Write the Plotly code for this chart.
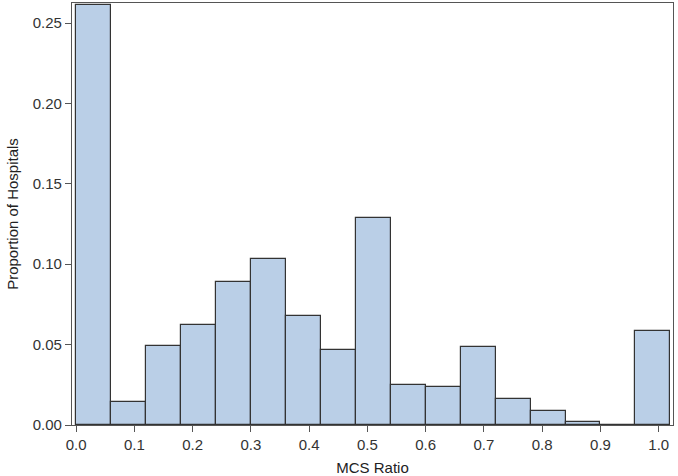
import plotly.graph_objects as go

bin_edges = [0.00, 0.06, 0.12, 0.18, 0.24, 0.30, 0.36, 0.42, 0.48, 0.54,
             0.60, 0.66, 0.72, 0.78, 0.84, 0.90, 0.96, 1.02]
proportions = [0.261, 0.014, 0.049, 0.062, 0.089, 0.103, 0.0675, 0.0466, 0.1286,
               0.0246, 0.0236, 0.0483, 0.016, 0.009, 0.0016, 0.0, 0.0584]
x_ticks = [0.0, 0.1, 0.2, 0.3, 0.4, 0.5, 0.6, 0.7, 0.8, 0.9, 1.0]
y_ticks = [0.00, 0.05, 0.10, 0.15, 0.20, 0.25]

centers = [(a + b) / 2 for a, b in zip(bin_edges[:-1], bin_edges[1:])]
widths = [b - a for a, b in zip(bin_edges[:-1], bin_edges[1:])]

fig = go.Figure(go.Bar(
    x=centers, y=proportions, width=widths,
    marker=dict(color="#BACFE7", line=dict(color="#333333", width=1.2)),
    hoverinfo="x+y",
))

font = dict(family="Liberation Sans, Arial, sans-serif", size=15, color="#333333")
fig.update_layout(
    width=678, height=476,
    margin=dict(l=72, r=5, t=3, b=51),
    paper_bgcolor="white", plot_bgcolor="white",
    font=font, showlegend=False, bargap=0,
)
fig.update_xaxes(
    range=[-0.007, 1.0245], tickvals=x_ticks,
    ticktext=[f"{v:.1f}" for v in x_ticks],
    showgrid=False, zeroline=False, automargin=False,
    showline=True, mirror=True, linecolor="#555555", linewidth=1.2,
    ticks="outside", ticklen=6, tickcolor="#555555",
    title=dict(text="MCS Ratio", font=dict(size=15, color="#222222"), standoff=12),
)
fig.update_yaxes(
    range=[0, 0.2625], tickvals=y_ticks,
    ticktext=[f"{v:.2f}" for v in y_ticks],
    showgrid=False, zeroline=False, automargin=False,
    showline=True, mirror=True, linecolor="#555555", linewidth=1.2,
    ticks="outside", ticklen=6, tickcolor="#555555",
    title=dict(text="Proportion of Hospitals", font=dict(size=15, color="#222222"), standoff=10),
)
fig.write_html(
    "out.html",
    config={"displayModeBar": False},
    post_script="document.body.style.margin='0';document.body.style.padding='0';",
)
